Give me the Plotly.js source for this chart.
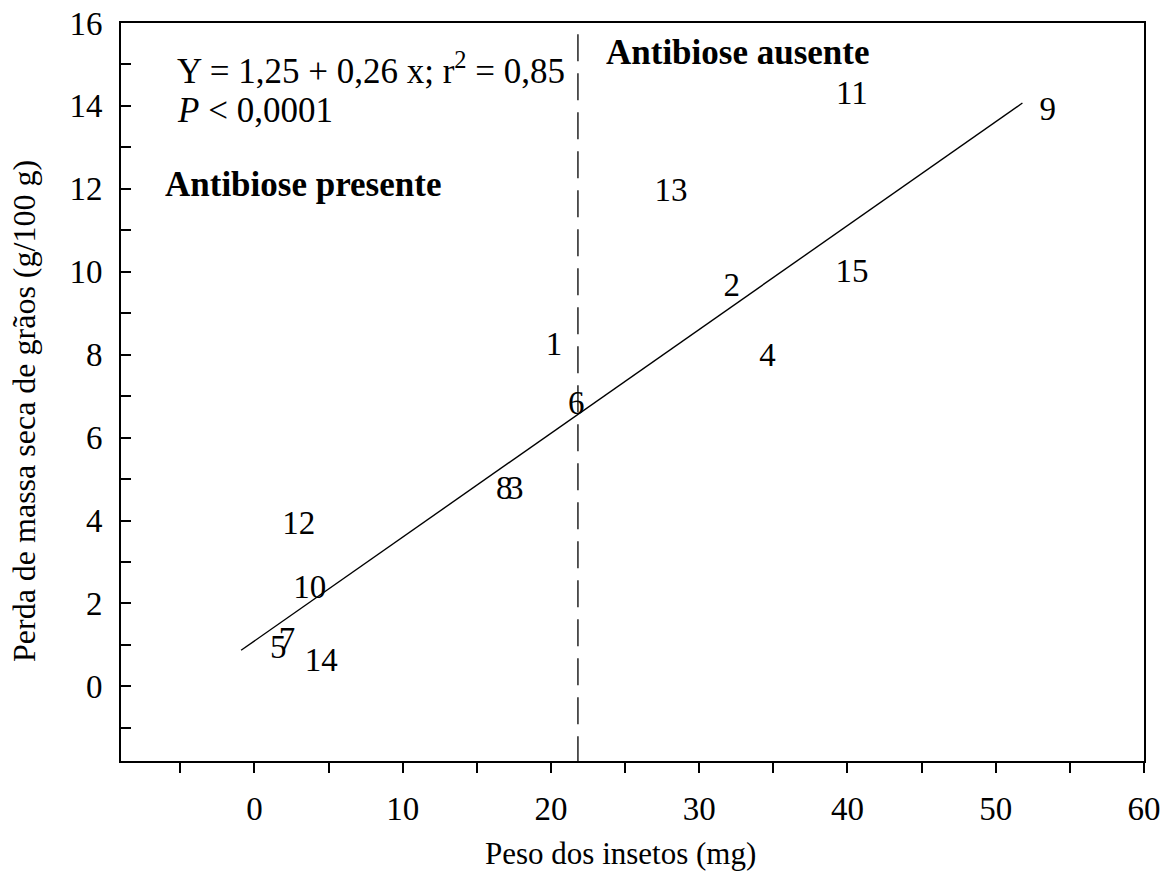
<!DOCTYPE html>
<html>
<head>
<meta charset="utf-8">
<script src="https://cdn.plot.ly/plotly-3.0.1.min.js"></script>
<style>html,body{margin:0;padding:0;background:#fff;}#chart{width:1172px;height:893px;}</style>
</head>
<body>
<div id="chart"></div>
<script>
// Point labels (treatment numbers) and their coordinates
const ids = ["1","2","3","4","5","6","7","8","9","10","11","12","13","14","15"];
const insectWeight = [20.2, 32.2, 17.6, 34.6, 1.6, 21.7, 2.2, 16.85, 53.5, 3.73, 40.3, 2.99, 28.1, 4.5, 40.3];
const massLoss = [8.18, 9.61, 4.72, 7.92, 0.88, 6.77, 1.08, 4.72, 13.87, 2.33, 14.24, 3.87, 11.9, 0.57, 9.96];

// Fitted regression line (as drawn)
const fitX = [-0.9, 51.8];
const fitY = [0.87, 14.07];

// Antibiosis threshold (vertical dashed line)
const thresholdX = [21.82, 21.82];
const thresholdY = [16.67, -1.8];

// Axis ticks
const xTickVals = [-5,0,5,10,15,20,25,30,35,40,45,50,55,60];
const xTickText = ["","0","","10","","20","","30","","40","","50","","60"];
const yTickVals = [-1,0,1,2,3,4,5,6,7,8,9,10,11,12,13,14,15,16];
const yTickText = ["","0","","2","","4","","6","","8","","10","","12","","14","","16"];

const FONT = 'Liberation Serif, Times New Roman, Times, serif';

const traces = [
  {
    x: thresholdX, y: thresholdY, mode: 'lines', type: 'scatter',
    line: {color: '#000', width: 1.3, dash: '27px,12px'}, hoverinfo: 'skip', showlegend: false
  },
  {
    x: fitX, y: fitY, mode: 'lines', type: 'scatter',
    line: {color: '#000', width: 1.4}, hoverinfo: 'skip', showlegend: false
  },
  {
    x: insectWeight, y: massLoss, text: ids, mode: 'text', type: 'scatter',
    textposition: 'middle center',
    textfont: {family: FONT, size: 33, color: '#000'},
    showlegend: false
  }
];

const layout = {
  width: 1172, height: 893,
  margin: {l: 121, r: 28, t: 23, b: 132},
  paper_bgcolor: '#fff', plot_bgcolor: '#fff',
  font: {family: FONT, size: 32, color: '#000'},
  showlegend: false,
  xaxis: {
    range: [-9, 60], showgrid: false, zeroline: false,
    showline: true, linecolor: '#000', linewidth: 2, mirror: true,
    ticks: 'outside', ticklen: 10, tickwidth: 2, tickcolor: '#000',
    tickmode: 'array', tickvals: xTickVals, ticktext: xTickText,
    tickfont: {family: FONT, size: 33, color: '#000'},
    ticklabelstandoff: 7
  },
  yaxis: {
    range: [-1.8, 16], showgrid: false, zeroline: false,
    showline: true, linecolor: '#000', linewidth: 2, mirror: true,
    ticks: 'inside', ticklen: 10, tickwidth: 2, tickcolor: '#000',
    tickmode: 'array', tickvals: yTickVals, ticktext: yTickText,
    tickfont: {family: FONT, size: 33, color: '#000'},
    ticklabelstandoff: 10
  },
  annotations: [
    {x: 0.4878, y: -0.1247, xref: 'paper', yref: 'paper', xanchor: 'center', yanchor: 'middle', showarrow: false,
     text: 'Peso dos insetos (mg)', font: {family: FONT, size: 31, color: '#000'}},
    {x: -0.0948, y: 0.4743, xref: 'paper', yref: 'paper', xanchor: 'center', yanchor: 'middle', showarrow: false,
     textangle: -90, text: 'Perda de massa seca de grãos (g/100 g)', font: {family: FONT, size: 32, color: '#000'}},
    {x: -5.37, y: 14.9, xref: 'x', yref: 'y', xanchor: 'left', yanchor: 'middle', showarrow: false,
     text: 'Y = 1,25 + 0,26 x; r<sup>2</sup> = 0,85', font: {family: FONT, size: 35, color: '#000'}},
    {x: -5.37, y: 13.9, xref: 'x', yref: 'y', xanchor: 'left', yanchor: 'middle', showarrow: false,
     text: '<i>P</i> < 0,0001', font: {family: FONT, size: 35, color: '#000'}},
    {x: -6.2, y: 12.1, xref: 'x', yref: 'y', xanchor: 'left', yanchor: 'middle', showarrow: false,
     text: '<b>Antibiose presente</b>', font: {family: FONT, size: 35, color: '#000'}},
    {x: 23.6, y: 15.28, xref: 'x', yref: 'y', xanchor: 'left', yanchor: 'middle', showarrow: false,
     text: '<b>Antibiose ausente</b>', font: {family: FONT, size: 35, color: '#000'}}
  ]
};

Plotly.newPlot('chart', traces, layout, {displayModeBar: false, staticPlot: true});
</script>
</body>
</html>
